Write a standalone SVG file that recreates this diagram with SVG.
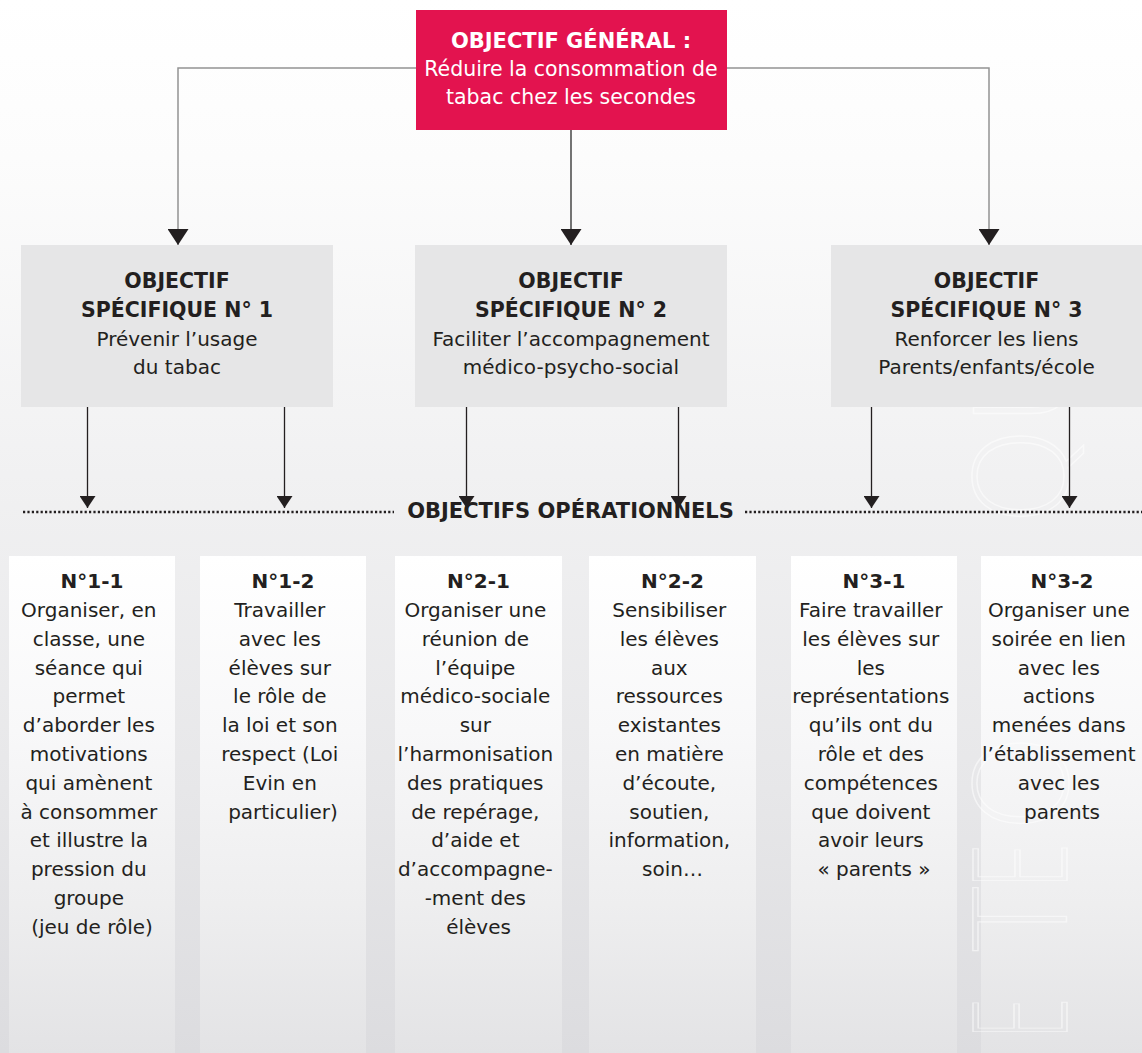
<svg xmlns="http://www.w3.org/2000/svg" width="1142" height="1053" viewBox="0 0 1142 1053">
  <defs>
    <linearGradient id="bg" x1="0" y1="0" x2="0" y2="1">
      <stop offset="0" stop-color="#ffffff"/>
      <stop offset="0.15" stop-color="#fcfcfc"/>
      <stop offset="0.45" stop-color="#f1f1f2"/>
      <stop offset="0.75" stop-color="#e7e7e9"/>
      <stop offset="1" stop-color="#dcdcdf"/>
    </linearGradient>
    <linearGradient id="colFill" x1="0" y1="0" x2="0" y2="1">
      <stop offset="0" stop-color="#ffffff"/>
      <stop offset="0.35" stop-color="#f8f8f9"/>
      <stop offset="0.7" stop-color="#eeeeef"/>
      <stop offset="1" stop-color="#e3e3e5"/>
    </linearGradient>
    <marker id="arrowBig" markerUnits="userSpaceOnUse" markerWidth="16" markerHeight="21" viewBox="0 0 16 21" refX="16" refY="10.5" orient="auto">
      <path d="M0,0 L16,10.5 L0,21 z" fill="#231f20"/>
    </marker>
    <marker id="arrowSmall" markerUnits="userSpaceOnUse" markerWidth="12" markerHeight="16" viewBox="0 0 12 16" refX="12" refY="8" orient="auto">
      <path d="M0,0 L12,8 L0,16 z" fill="#231f20"/>
    </marker>
  </defs>
  <style>
    .hd { font-family: "DejaVu Sans", "Liberation Sans", sans-serif; font-weight: bold; font-size: 20.5px; fill: #231f20; text-anchor: middle; }
    .bd { font-family: "DejaVu Sans", "Liberation Sans", sans-serif; font-size: 20px; fill: #231f20; text-anchor: middle; }
    .colhd { font-family: "DejaVu Sans", "Liberation Sans", sans-serif; font-weight: bold; font-size: 20px; fill: #231f20; text-anchor: middle; }
    .white { fill: #ffffff; }
    .spec { fill: #e6e6e7; }
    .col { fill: url(#colFill); }
    .side { fill: none; stroke: #939393; stroke-width: 1.5; }
    .mid { fill: none; stroke: #3a3a3a; stroke-width: 1.4; }
    .down { fill: none; stroke: #231f20; stroke-width: 1.3; }
    .dots { stroke: #231f20; stroke-width: 2.4; stroke-dasharray: 2.2 2.2; }
    .wm { font-family: "DejaVu Sans", sans-serif; font-weight: 200; font-size: 129px; fill: none; stroke: #ffffff; stroke-width: 1.5; opacity: 0.55; }
  </style>

  <!-- page background -->
  <rect x="0" y="0" width="1142" height="1053" fill="url(#bg)"/>

  <!-- operational objective columns -->
  <g id="op-1-1">
    <rect class="col" x="9" y="556" width="166" height="497"/>
  </g>
  <g id="op-1-2">
    <rect class="col" x="200" y="556" width="166" height="497"/>
  </g>
  <g id="op-2-1">
    <rect class="col" x="395" y="556" width="167" height="497"/>
  </g>
  <g id="op-2-2">
    <rect class="col" x="589" y="556" width="167" height="497"/>
  </g>
  <g id="op-3-1">
    <rect class="col" x="791" y="556" width="166" height="497"/>
  </g>
  <g id="op-3-2">
    <rect class="col" x="981" y="556" width="161" height="497"/>
  </g>

  <!-- faint vertical lettering on the right, one glyph per element -->
  <g id="lettering">
    <text class="wm" transform="translate(1067,1040) rotate(-90) scale(0.54,1)">E</text>
    <text class="wm" transform="translate(1067,953) rotate(-90) scale(0.86,1)">T</text>
    <text class="wm" transform="translate(1067,890) rotate(-90) scale(0.6,1)">E</text>
    <text class="wm" transform="translate(1067,834) rotate(-90)">O</text>
    <text class="wm" transform="translate(1067,527) rotate(-90)">Q</text>
    <text class="wm" transform="translate(1067,428) rotate(-90)">U</text>
  </g>

  <!-- connectors -->
  <g id="connectors">
    <path class="side" d="M416,68 H178 V245" marker-end="url(#arrowBig)"/>
    <path class="side" d="M727,68 H989 V245" marker-end="url(#arrowBig)"/>
    <path class="mid" d="M571,130 V245" marker-end="url(#arrowBig)"/>
    <path class="down" d="M87.5,407 V508" marker-end="url(#arrowSmall)"/>
    <path class="down" d="M284.5,407 V508" marker-end="url(#arrowSmall)"/>
    <path class="down" d="M466.5,407 V508" marker-end="url(#arrowSmall)"/>
    <path class="down" d="M678.5,407 V508" marker-end="url(#arrowSmall)"/>
    <path class="down" d="M871.5,407 V508" marker-end="url(#arrowSmall)"/>
    <path class="down" d="M1069.5,407 V508" marker-end="url(#arrowSmall)"/>
    <line class="dots" x1="23" y1="512" x2="394" y2="512"/>
    <line class="dots" x1="745" y1="512" x2="1142" y2="512"/>
  </g>

  <!-- general objective -->
  <g id="general">
    <rect x="416" y="10" width="311" height="120" fill="#e3134f"/>
    <text class="hd white" x="571" y="48" style="font-size:21px">OBJECTIF GÉNÉRAL :</text>
    <text class="bd white" x="571" y="76" style="font-size:20.5px">Réduire la consommation de</text>
    <text class="bd white" x="571" y="104" style="font-size:20.5px">tabac chez les secondes</text>
  </g>

  <!-- specific objectives -->
  <g id="spec-1">
    <rect class="spec" x="21" y="245" width="312" height="162"/>
    <text class="hd" x="177" y="288">OBJECTIF</text>
    <text class="hd" x="177" y="317">SPÉCIFIQUE N° 1</text>
    <text class="bd" x="177" y="346">Prévenir l’usage</text>
    <text class="bd" x="177" y="374">du tabac</text>
  </g>
  <g id="spec-2">
    <rect class="spec" x="415" y="245" width="312" height="162"/>
    <text class="hd" x="571" y="288">OBJECTIF</text>
    <text class="hd" x="571" y="317">SPÉCIFIQUE N° 2</text>
    <text class="bd" x="571" y="346">Faciliter l’accompagnement</text>
    <text class="bd" x="571" y="374">médico-psycho-social</text>
  </g>
  <g id="spec-3">
    <rect class="spec" x="831" y="245" width="311" height="162"/>
    <text class="hd" x="986.5" y="288">OBJECTIF</text>
    <text class="hd" x="986.5" y="317">SPÉCIFIQUE N° 3</text>
    <text class="bd" x="986.5" y="346">Renforcer les liens</text>
    <text class="bd" x="986.5" y="374">Parents/enfants/école</text>
  </g>

  <!-- operational objectives heading -->
  <text class="hd" x="570.5" y="518" style="font-size:21px">OBJECTIFS OPÉRATIONNELS</text>

  <!-- operational objectives text -->
  <g id="op-1-1-text">
    <text class="colhd" x="92" y="588">N°1-1</text>
    <text class="bd" y="617">
      <tspan x="92">Organiser, en</tspan>
      <tspan x="92" dy="28.8">classe, une</tspan>
      <tspan x="92" dy="28.8">séance qui</tspan>
      <tspan x="92" dy="28.8">permet</tspan>
      <tspan x="92" dy="28.8">d’aborder les</tspan>
      <tspan x="92" dy="28.8">motivations</tspan>
      <tspan x="92" dy="28.8">qui amènent</tspan>
      <tspan x="92" dy="28.8">à consommer</tspan>
      <tspan x="92" dy="28.8">et illustre la</tspan>
      <tspan x="92" dy="28.8">pression du</tspan>
      <tspan x="92" dy="28.8">groupe</tspan>
      <tspan x="92" dy="28.8">(jeu de rôle)</tspan>
    </text>
  </g>
  <g id="op-1-2-text">
    <text class="colhd" x="283" y="588">N°1-2</text>
    <text class="bd" y="617">
      <tspan x="283">Travailler</tspan>
      <tspan x="283" dy="28.8">avec les</tspan>
      <tspan x="283" dy="28.8">élèves sur</tspan>
      <tspan x="283" dy="28.8">le rôle de</tspan>
      <tspan x="283" dy="28.8">la loi et son</tspan>
      <tspan x="283" dy="28.8">respect (Loi</tspan>
      <tspan x="283" dy="28.8">Evin en</tspan>
      <tspan x="283" dy="28.8">particulier)</tspan>
    </text>
  </g>
  <g id="op-2-1-text">
    <text class="colhd" x="478.5" y="588">N°2-1</text>
    <text class="bd" y="617">
      <tspan x="478.5">Organiser une</tspan>
      <tspan x="478.5" dy="28.8">réunion de</tspan>
      <tspan x="478.5" dy="28.8">l’équipe</tspan>
      <tspan x="478.5" dy="28.8">médico-sociale</tspan>
      <tspan x="478.5" dy="28.8">sur</tspan>
      <tspan x="478.5" dy="28.8">l’harmonisation</tspan>
      <tspan x="478.5" dy="28.8">des pratiques</tspan>
      <tspan x="478.5" dy="28.8">de repérage,</tspan>
      <tspan x="478.5" dy="28.8">d’aide et</tspan>
      <tspan x="478.5" dy="28.8">d’accompagne-</tspan>
      <tspan x="478.5" dy="28.8">-ment des</tspan>
      <tspan x="478.5" dy="28.8">élèves</tspan>
    </text>
  </g>
  <g id="op-2-2-text">
    <text class="colhd" x="672.5" y="588">N°2-2</text>
    <text class="bd" y="617">
      <tspan x="672.5">Sensibiliser</tspan>
      <tspan x="672.5" dy="28.8">les élèves</tspan>
      <tspan x="672.5" dy="28.8">aux</tspan>
      <tspan x="672.5" dy="28.8">ressources</tspan>
      <tspan x="672.5" dy="28.8">existantes</tspan>
      <tspan x="672.5" dy="28.8">en matière</tspan>
      <tspan x="672.5" dy="28.8">d’écoute,</tspan>
      <tspan x="672.5" dy="28.8">soutien,</tspan>
      <tspan x="672.5" dy="28.8">information,</tspan>
      <tspan x="672.5" dy="28.8">soin…</tspan>
    </text>
  </g>
  <g id="op-3-1-text">
    <text class="colhd" x="874" y="588">N°3-1</text>
    <text class="bd" y="617">
      <tspan x="874">Faire travailler</tspan>
      <tspan x="874" dy="28.8">les élèves sur</tspan>
      <tspan x="874" dy="28.8">les</tspan>
      <tspan x="874" dy="28.8">représentations</tspan>
      <tspan x="874" dy="28.8">qu’ils ont du</tspan>
      <tspan x="874" dy="28.8">rôle et des</tspan>
      <tspan x="874" dy="28.8">compétences</tspan>
      <tspan x="874" dy="28.8">que doivent</tspan>
      <tspan x="874" dy="28.8">avoir leurs</tspan>
      <tspan x="874" dy="28.8">« parents »</tspan>
    </text>
  </g>
  <g id="op-3-2-text">
    <text class="colhd" x="1062" y="588">N°3-2</text>
    <text class="bd" y="617">
      <tspan x="1062">Organiser une</tspan>
      <tspan x="1062" dy="28.8">soirée en lien</tspan>
      <tspan x="1062" dy="28.8">avec les</tspan>
      <tspan x="1062" dy="28.8">actions</tspan>
      <tspan x="1062" dy="28.8">menées dans</tspan>
      <tspan x="1062" dy="28.8">l’établissement</tspan>
      <tspan x="1062" dy="28.8">avec les</tspan>
      <tspan x="1062" dy="28.8">parents</tspan>
    </text>
  </g>
</svg>
